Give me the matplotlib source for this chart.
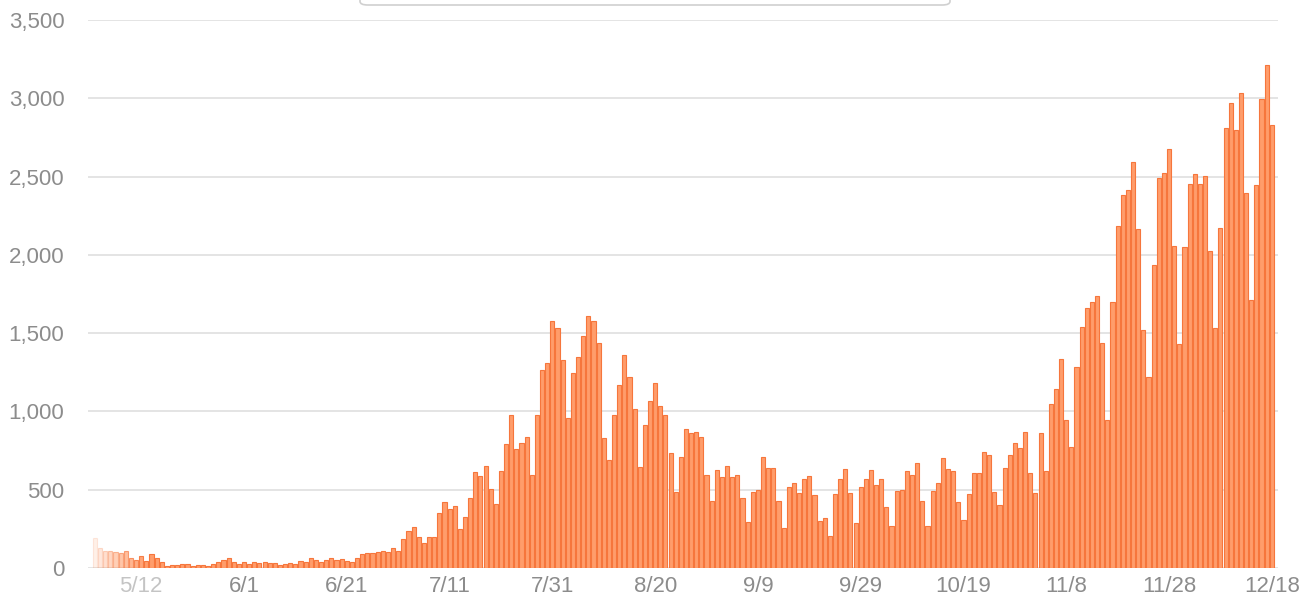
import matplotlib
matplotlib.use("Agg")
import matplotlib.pyplot as plt
from matplotlib.patches import FancyBboxPatch
import numpy as np
import pandas as pd

# ---- data ----
start_date = "2020-05-03"
end_date = "2020-12-18"
daily_cases = [
    192, 128, 111, 106, 100, 96, 111, 64, 53, 75,
    47, 92, 64, 36, 15, 21, 21, 26, 26, 15,
    20, 20, 12, 26, 40, 51, 62, 40, 26, 40,
    26, 40, 30, 40, 30, 30, 20, 28, 30, 26,
    47, 40, 62, 51, 40, 51, 62, 51, 55, 47,
    40, 62, 89, 94, 94, 104, 108, 100, 126, 111,
    183, 238, 264, 200, 162, 200, 200, 349, 424, 375,
    398, 249, 328, 445, 615, 587, 652, 502, 409, 621,
    790, 977, 760, 800, 834, 594, 977, 1264, 1307, 1579,
    1530, 1328, 960, 1243, 1350, 1482, 1609, 1575, 1439, 832,
    690, 977, 1169, 1360, 1222, 1013, 647, 913, 1066, 1179,
    1035, 977, 737, 487, 711, 885, 860, 870, 838, 594,
    430, 626, 583, 651, 583, 594, 445, 296, 483, 498,
    707, 637, 641, 430, 257, 519, 545, 481, 566, 587,
    466, 302, 321, 204, 470, 566, 630, 481, 289, 519,
    566, 626, 530, 566, 391, 268, 492, 498, 621, 594,
    673, 428, 268, 492, 545, 700, 630, 619, 423, 306,
    470, 609, 609, 741, 722, 487, 402, 636, 722, 800,
    768, 870, 605, 477, 860, 619, 1047, 1141, 1333, 945,
    775, 1281, 1541, 1658, 1701, 1737, 1439, 945, 1697, 2184,
    2382, 2414, 2591, 2163, 1520, 1222, 1935, 2493, 2525, 2676,
    2056, 1430, 2050, 2450, 2515, 2450, 2505, 2025, 1530, 2170,
    2810, 2970, 2797, 3033, 2395, 1711, 2446, 2995, 3212, 2830,
]
y_ticks = [0, 500, 1000, 1500, 2000, 2500, 3000, 3500]
x_tick_labels = ["5/12", "6/1", "6/21", "7/11", "7/31", "8/20",
                 "9/9", "9/29", "10/19", "11/8", "11/28", "12/18"]

dates = pd.date_range(start_date, end_date, freq="D")
labels = [f"{d.month}/{d.day}" for d in dates]
x = np.arange(len(daily_cases))

# ---- figure ----
W, H = 1303, 602
fig = plt.figure(figsize=(W / 100, H / 100), dpi=100)
plt.rcParams["font.family"] = ["Liberation Sans", "DejaVu Sans"]

left_px, right_px, top_px, bottom_px = 88, 1278, 20, 568
ax = fig.add_axes([left_px / W, 1 - bottom_px / H,
                   (right_px - left_px) / W, (bottom_px - top_px) / H])

n = len(daily_cases)
alphas = np.clip(0.15 + 0.085 * x, 0.15, 1.0)
face = np.array(matplotlib.colors.to_rgba("#FF9D6B"))
edge = np.array(matplotlib.colors.to_rgba("#F6763C"))
fc = np.tile(face, (n, 1)); fc[:, 3] = alphas
ec = np.tile(edge, (n, 1)); ec[:, 3] = alphas
ax.bar(x, daily_cases, width=0.8, color=fc, edgecolor=ec, linewidth=0.8, zorder=3)

ax.set_xlim(-1.36, 230.2)
ax.set_ylim(0, 3500)
ax.set_yticks(y_ticks)
ax.set_yticklabels([f"{v:,}" for v in y_ticks])
ax.yaxis.grid(True, color="#e4e4e4", linewidth=1.4, zorder=0)
ax.set_axisbelow(True)
for s in ax.spines.values():
    s.set_visible(False)
ax.tick_params(axis="both", length=0, labelsize=16, labelcolor="#8c8c8c")
ax.tick_params(axis="y", pad=17)
ax.tick_params(axis="x", pad=6)

tick_pos = [labels.index(t) for t in x_tick_labels]
ax.set_xticks(tick_pos)
ax.set_xticklabels(x_tick_labels)
ax.get_xticklabels()[0].set_color("#c4c4c4")

# partially visible legend box at top
box = FancyBboxPatch((360 / W, 1 - 5 / H), (950 - 360) / W, 40 / H,
                     boxstyle="round,pad=0,rounding_size=0.006",
                     transform=fig.transFigure, facecolor="white",
                     edgecolor="#d0d0d0", linewidth=1.2, clip_on=False)
fig.patches.append(box)

fig.savefig("out.png", dpi=100)
